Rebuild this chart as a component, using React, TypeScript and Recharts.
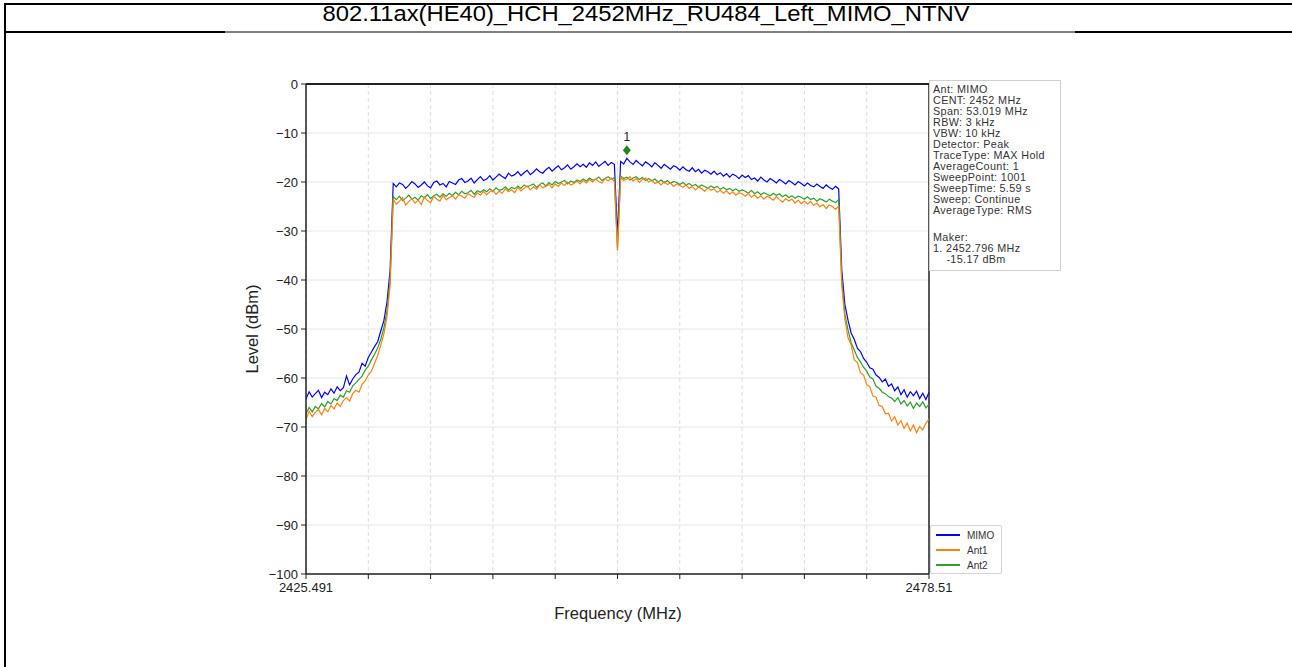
import { CartesianGrid, Line, LineChart, ReferenceDot, ReferenceLine, XAxis, YAxis } from "recharts";

const FONT = "'Liberation Sans', Arial, sans-serif";

const FREQ_START = 2425.491;
const FREQ_STOP = 2478.51;
const SWEEP_POINTS = 201;

const X_TICKS = [
  2425.491, 2430.793, 2436.095, 2441.397, 2446.699, 2452.001, 2457.302, 2462.604, 2467.906,
  2473.208, 2478.51,
];
const Y_TICKS = [0, -10, -20, -30, -40, -50, -60, -70, -80, -90, -100];

// MIMO trace (dBm), 201 points across the span
const MIMO = [
  -64.3, -62.8, -63.9, -63.2, -62.5, -64.0, -62.9, -63.4, -62.2, -63.1,
  -61.8, -62.6, -62.0, -59.6, -61.4, -60.2, -59.3, -58.8, -57.0, -57.6,
  -55.8, -54.7, -53.6, -52.6, -50.4, -48.3, -44.5, -38.0,
  -20.3, -21.0, -20.2, -20.5, -21.3, -20.7, -19.9, -20.4, -21.1, -20.6,
  -20.0, -20.8, -21.2, -20.1, -19.8, -20.6, -20.3, -21.0, -19.9, -20.2,
  -20.5, -19.6, -19.3, -20.1, -19.8, -19.2, -20.2, -19.5, -18.9, -19.7,
  -19.4, -18.7, -19.6, -19.0, -18.4, -18.9, -19.3, -18.2, -18.8, -18.5,
  -17.9, -18.7, -18.1, -17.6, -18.5, -18.0, -17.3, -17.9, -18.2, -17.5,
  -17.0, -17.8, -17.2, -16.7, -17.5, -17.1, -16.5, -17.4, -16.9, -16.3,
  -16.9, -16.4, -17.0, -16.1, -16.6, -15.9, -16.8, -16.3, -15.8, -16.6,
  -16.0, -16.4,
  -31.0,
  -15.8, -16.3, -15.17, -15.9, -16.4, -15.6, -16.2, -16.7, -15.9, -16.3,
  -16.9, -16.1, -16.6, -17.2, -16.4, -16.9, -17.4, -16.7, -17.0, -17.6,
  -16.9, -17.5, -17.8, -17.1, -17.9, -17.4, -18.2, -17.6, -17.9, -18.4,
  -17.8, -18.5, -18.1, -18.8, -18.3, -19.0, -18.4, -18.7, -19.3, -18.6,
  -19.1, -18.7, -19.5, -19.2, -19.8, -19.0, -19.6, -20.0, -19.3, -19.7,
  -20.2, -19.5, -19.9, -20.4, -19.7, -20.1, -20.6, -19.9, -20.3, -20.8,
  -20.2, -20.7, -21.0, -20.4, -20.9, -21.3, -20.6, -21.1, -21.5, -20.9, -21.4,
  -38.0, -45.0, -48.2, -50.8, -52.1, -53.9, -54.6, -56.0, -56.8, -57.9,
  -58.2, -59.4, -59.9, -60.8, -60.2, -61.7, -61.2, -62.6, -61.8, -63.4,
  -62.4, -63.9, -62.8, -63.6, -62.7, -64.2, -63.1, -64.4, -62.9,
];

const ANT1 = [
  -68.5, -66.8, -67.9, -67.0, -66.4, -67.5, -66.2, -66.9, -65.6, -66.3,
  -65.1, -65.8, -64.6, -64.0, -64.7, -63.2, -62.5, -62.9, -61.3, -60.6,
  -59.4, -58.6, -57.0, -55.4, -53.3, -51.0, -47.5, -41.0,
  -23.5, -24.5, -23.9, -23.2, -24.7, -24.0, -23.4, -24.3, -23.7, -24.6,
  -23.1, -23.8, -24.2, -22.9, -23.5, -23.9, -22.7, -23.6, -23.2, -22.8,
  -23.5, -22.6, -22.9, -23.3, -22.4, -22.8, -23.1, -22.2, -22.7, -21.9,
  -22.6, -22.0, -21.7, -22.5, -21.9, -22.3, -21.4, -22.0, -21.6, -22.2,
  -21.1, -21.8, -21.3, -20.8, -21.6, -21.0, -21.5, -20.6, -21.2, -20.9,
  -20.5, -21.2, -20.4, -20.9, -20.2, -20.7, -20.0, -20.6, -20.3, -19.8,
  -20.4, -19.7, -20.2, -19.5, -20.0, -19.4, -19.9, -20.2, -19.3, -19.8,
  -19.2, -19.9,
  -34.0,
  -19.1, -19.7, -19.4, -18.9, -19.8, -19.3, -20.1, -19.5, -19.2, -20.0,
  -19.6, -20.3, -20.0, -20.6, -19.9, -20.5, -20.2, -20.9, -20.4, -20.7,
  -21.1, -20.6, -21.3, -20.9, -21.6, -21.0, -21.4, -21.9, -21.2, -21.7,
  -21.4, -22.1, -21.7, -22.3, -21.8, -22.5, -22.0, -22.7, -22.2, -22.4,
  -22.9, -22.3, -23.1, -22.6, -23.3, -22.8, -23.5, -22.9, -23.2, -23.7,
  -23.0, -23.6, -24.1, -23.4, -23.9, -23.5, -24.3, -23.7, -24.4, -23.9,
  -24.5, -24.0, -24.8, -24.3, -25.1, -24.6, -25.4, -24.7, -25.0, -25.6, -24.9,
  -41.0, -48.0, -51.8, -53.2, -56.3, -56.8, -58.9, -59.4, -61.3, -61.8,
  -63.7, -63.9, -65.6, -65.8, -67.3, -67.2, -68.8, -67.9, -69.6, -68.7,
  -70.3, -69.2, -70.8, -69.6, -71.2, -69.9, -70.6, -69.2, -68.4,
];

const ANT2 = [
  -67.3, -66.0, -66.9, -65.8, -66.3, -65.2, -65.9, -64.8, -65.3, -64.2,
  -64.6, -63.5, -63.9, -62.6, -62.9, -61.6, -61.0, -60.3, -59.6, -58.4,
  -57.6, -56.3, -55.2, -53.9, -52.1, -49.8, -46.3, -40.0,
  -23.0, -23.6, -22.9, -23.8, -23.3, -22.7, -23.5, -23.1, -23.7, -22.8,
  -23.2, -22.6, -23.4, -22.8, -22.5, -23.1, -22.4, -22.9, -22.3, -22.8,
  -22.1, -22.6, -21.9, -22.4, -22.2, -21.7, -22.5, -21.8, -22.1, -21.6,
  -22.0, -21.4, -21.9, -21.2, -21.7, -21.5, -21.0, -21.6, -21.1, -21.4,
  -20.8, -21.3, -20.6, -21.0, -20.7, -20.4, -21.1, -20.5, -20.2, -20.8,
  -20.1, -20.6, -19.9, -20.3, -20.0, -19.7, -20.4, -19.8, -20.1, -19.6,
  -19.9, -19.4, -19.8, -19.2, -19.6, -19.5, -19.0, -19.7, -19.3, -18.9,
  -19.4, -19.1,
  -33.5,
  -18.8, -19.3, -19.0, -19.6, -19.2, -18.9, -19.5, -19.1, -19.7, -19.3,
  -19.8, -19.4, -20.0, -19.6, -20.2, -19.7, -20.3, -19.9, -20.1, -20.5,
  -20.1, -20.6, -20.3, -20.8, -20.5, -21.0, -20.6, -20.9, -21.3, -20.8,
  -21.2, -20.9, -21.5, -21.1, -21.6, -21.3, -21.8, -21.4, -21.9, -21.6,
  -21.9, -22.3, -21.7, -22.4, -22.0, -22.6, -22.2, -22.5, -22.8, -22.3,
  -22.7, -22.4, -23.0, -22.6, -23.2, -22.8, -23.3, -22.9, -23.1, -23.5,
  -23.0, -23.6, -23.3, -23.9, -23.4, -23.7, -24.1, -23.5, -23.9, -24.2, -23.6,
  -40.0, -47.0, -50.2, -52.8, -54.3, -55.8, -56.7, -57.8, -58.6, -59.8,
  -60.2, -61.7, -62.1, -62.9, -63.2, -63.8, -64.1, -64.8, -64.0, -65.3,
  -64.6, -65.7, -64.9, -66.2, -65.1, -65.8, -64.9, -66.1, -65.4,
];

const MARKER_FREQ = 2452.796;
const MARKER_LEVEL = -15.17;

const INFO_LINES = [
  "Ant: MIMO",
  "CENT: 2452 MHz",
  "Span: 53.019 MHz",
  "RBW: 3 kHz",
  "VBW: 10 kHz",
  "Detector: Peak",
  "TraceType: MAX Hold",
  "AverageCount: 1",
  "SweepPoint: 1001",
  "SweepTime: 5.59 s",
  "Sweep: Continue",
  "AverageType: RMS",
];
const MARKER_LINES = ["Maker:", "1. 2452.796 MHz", "    -15.17 dBm"];

const SERIES = [
  { key: "mimo", name: "MIMO", color: "#0000ff" },
  { key: "ant1", name: "Ant1", color: "#ff7f0e" },
  { key: "ant2", name: "Ant2", color: "#2ca02c" },
];

const data = MIMO.map((v, i) => ({
  f: FREQ_START + (i * (FREQ_STOP - FREQ_START)) / (SWEEP_POINTS - 1),
  mimo: v,
  ant1: ANT1[i],
  ant2: ANT2[i],
}));

const fmtY = (v: number) => (v < 0 ? "\u2212" + Math.abs(v) : String(v));
const fmtX = (v: number) =>
  v === X_TICKS[0] ? "2425.491" : v === X_TICKS[X_TICKS.length - 1] ? "2478.51" : "";

const MarkerShape = (props: any) => {
  const { cx, cy } = props;
  const y = cy - 8;
  return (
    <g>
      <path d={`M${cx},${y - 5} L${cx + 4},${y} L${cx},${y + 5} L${cx - 4},${y} Z`} fill="#1e8a1e" />
      <text x={cx} y={cy - 17} textAnchor="middle" fontSize={12} fontFamily={FONT} fill="#222">
        1
      </text>
    </g>
  );
};

export default function App() {
  return (
    <div style={{ position: "absolute", left: 0, top: 0, width: 1292, height: 667, background: "#fff" }}>
      <div style={{ position: "absolute", left: 0, top: 0 }}>
        <LineChart
          width={1292}
          height={667}
          data={data}
          margin={{ top: 84, right: 363, bottom: 63, left: 246 }}
        >
          <CartesianGrid horizontal vertical={false} stroke="#e6e6e6" />
          <CartesianGrid horizontal={false} vertical stroke="#dddddd" strokeDasharray="4 3" />
          <XAxis
            dataKey="f"
            type="number"
            domain={[FREQ_START, FREQ_STOP]}
            ticks={X_TICKS}
            tickFormatter={fmtX}
            interval={0}
            height={30}
            tickSize={5}
            tickMargin={4}
            axisLine={{ stroke: "#222", strokeWidth: 1.5 }}
            tickLine={{ stroke: "#222" }}
            tick={{ fontSize: 13, fill: "#222", fontFamily: FONT }}
            allowDataOverflow
          />
          <YAxis
            type="number"
            domain={[-100, 0]}
            ticks={Y_TICKS}
            tickFormatter={fmtY}
            interval={0}
            width={60}
            tickSize={5}
            tickMargin={3}
            axisLine={{ stroke: "#222", strokeWidth: 1.5 }}
            tickLine={{ stroke: "#222" }}
            tick={{ fontSize: 13, fill: "#222", fontFamily: FONT }}
            allowDataOverflow
          />
          <ReferenceLine y={0} stroke="#222" strokeWidth={2} />
          <ReferenceLine x={FREQ_STOP} stroke="#222" strokeWidth={1.5} />
          <Line dataKey="mimo" name="MIMO" stroke="#0000ff" strokeWidth={1.2} dot={false} type="linear" isAnimationActive={false} />
          <Line dataKey="ant2" name="Ant2" stroke="#2ca02c" strokeWidth={1.2} dot={false} type="linear" isAnimationActive={false} />
          <Line dataKey="ant1" name="Ant1" stroke="#ff7f0e" strokeWidth={1.2} dot={false} type="linear" isAnimationActive={false} />
          <ReferenceDot x={MARKER_FREQ} y={MARKER_LEVEL} shape={MarkerShape} />
        </LineChart>
      </div>

      {/* page frame, title and axis titles */}
      <svg width={1292} height={667} style={{ position: "absolute", left: 0, top: 0, pointerEvents: "none" }}>
        <line x1={4} y1={4} x2={1292} y2={4} stroke="#000" strokeWidth={2} />
        <line x1={5} y1={3} x2={5} y2={667} stroke="#000" strokeWidth={2} />
        <line x1={4} y1={32} x2={225} y2={32} stroke="#000" strokeWidth={2} />
        <line x1={225} y1={32} x2={1075} y2={32} stroke="#000" strokeWidth={1} />
        <line x1={1075} y1={32} x2={1292} y2={32} stroke="#000" strokeWidth={2} />
        <text
          x={646}
          y={21}
          textAnchor="middle"
          fontSize={22}
          fontFamily="'Liberation Sans Narrow', 'Liberation Sans', Arial, sans-serif"
          textLength={647}
          lengthAdjust="spacingAndGlyphs"
          fill="#000"
        >
          802.11ax(HE40)_HCH_2452MHz_RU484_Left_MIMO_NTNV
        </text>
        <text x={618} y={619} textAnchor="middle" fontSize={16.5} fontFamily={FONT} fill="#222">
          Frequency (MHz)
        </text>
        <text
          x={258}
          y={329}
          textAnchor="middle"
          fontSize={16.5}
          fontFamily={FONT}
          fill="#222"
          transform="rotate(-90 258 329)"
        >
          Level (dBm)
        </text>
      </svg>

      {/* instrument settings box */}
      <div
        style={{
          position: "absolute",
          left: 929,
          top: 80,
          width: 127,
          height: 186,
          border: "1px solid #cfcfcf",
          background: "#fff",
          fontFamily: FONT,
          fontSize: 10.8,
          letterSpacing: 0.35,
          lineHeight: "11px",
          color: "#333",
          padding: "3px 0 0 3px",
          whiteSpace: "pre",
          boxSizing: "content-box",
        }}
      >
        {INFO_LINES.map((t) => (
          <div key={t}>{t}</div>
        ))}
        <div style={{ height: 16 }} />
        {MARKER_LINES.map((t) => (
          <div key={t}>{t}</div>
        ))}
      </div>

      {/* legend */}
      <div
        style={{
          position: "absolute",
          left: 930,
          top: 525,
          width: 70,
          height: 47,
          border: "1px solid #d5d5d5",
          borderRadius: 2,
          background: "#fff",
          fontFamily: FONT,
          fontSize: 10,
          color: "#333",
        }}
      >
        {SERIES.map((s, i) => (
          <div key={s.key} style={{ position: "absolute", left: 5, top: 4 + i * 15, height: 10, display: "flex", alignItems: "center" }}>
            <div style={{ width: 24, height: 1.5, background: s.color }} />
            <span style={{ marginLeft: 7 }}>{s.name}</span>
          </div>
        ))}
      </div>
    </div>
  );
}
